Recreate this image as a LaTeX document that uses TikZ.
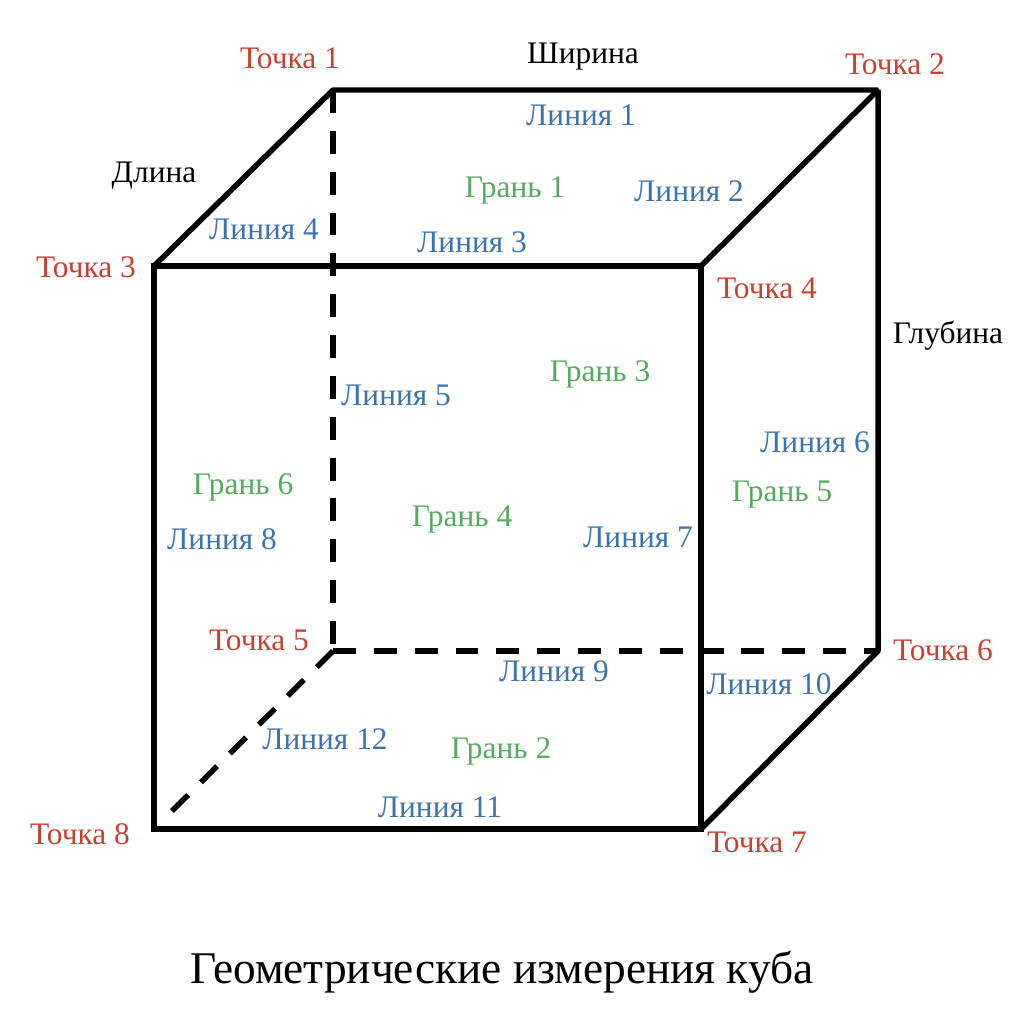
\documentclass[tikz,border=0pt]{standalone}
\usepackage{fontspec}
\setmainfont{Liberation Serif}
\usepackage{tikz}
\definecolor{ptred}{RGB}{205,62,50}
\definecolor{lineblue}{RGB}{60,115,175}
\definecolor{facegreen}{RGB}{85,170,95}
\tikzset{
  edge/.style={line width=5.5pt},
  hidden/.style={edge,dash pattern=on 23pt off 18pt},
  lab/.style={inner sep=0pt,font=\fontsize{31.5}{34}\selectfont},
  pt/.style={lab,text=ptred},
  ln/.style={lab,text=lineblue},
  fc/.style={lab,text=facegreen},
  dim/.style={lab,text=black},
}
\begin{document}
\begin{tikzpicture}[x=.0352778cm,y=-.0352778cm]
  \useasboundingbox (0,0) rectangle (1024,1024);
  % corners
  \coordinate (p1) at (333,90);
  \coordinate (p2) at (878,90);
  \coordinate (p3) at (154,266);
  \coordinate (p4) at (701,266);
  \coordinate (p5) at (333,651);
  \coordinate (p6) at (878,651);
  \coordinate (p7) at (701,829);
  \coordinate (p8) at (154,829);
  \coordinate (p8a) at (168,815);
  % hidden edges
  \draw[hidden] (p1) -- (p5);
  \draw[hidden] (p5) -- (p6);
  \draw[hidden] (p5) -- (p8a);
  % visible edges
  \draw[edge,line join=miter] (p3) rectangle (p7);
  \draw[edge,line join=bevel] (p3) -- (p1) -- (p2) -- (p4);
  \draw[edge,line join=bevel] (p2) -- (p6) -- (p7);
  % points
  \node[pt] (t1) at (290,58) {Точка 1};
  \node[pt] (t2) at (895,64) {Точка 2};
  \node[pt] (t3) at (86,267) {Точка 3};
  \node[pt] (t4) at (767,288) {Точка 4};
  \node[pt] (t5) at (259,640) {Точка 5};
  \node[pt] (t6) at (943,650) {Точка 6};
  \node[pt] (t7) at (757,842) {Точка 7};
  \node[pt] (t8) at (80,834) {Точка 8};
  % dimensions
  \node[dim] (w) at (583,57) {Ширина};
  \node[dim] (l) at (154,176) {Длина};
  \node[dim] (h) at (948,336) {Глубина};
  % lines
  \node[ln] (l1) at (581,115) {Линия 1};
  \node[ln] (l2) at (689,191) {Линия 2};
  \node[ln] (l3) at (472,242) {Линия 3};
  \node[ln] (l4) at (264,229) {Линия 4};
  \node[ln] (l5) at (396,395) {Линия 5};
  \node[ln] (l6) at (815,442) {Линия 6};
  \node[ln] (l7) at (638,537) {Линия 7};
  \node[ln] (l8) at (222,539) {Линия 8};
  \node[ln] (l9) at (554,671) {Линия 9};
  \node[ln] (l10) at (769,684) {Линия 10};
  \node[ln] (l11) at (440,807) {Линия 11};
  \node[ln] (l12) at (325,739) {Линия 12};
  % faces
  \node[fc] (f1) at (515,190) {Грань 1};
  \node[fc] (f2) at (501,751) {Грань 2};
  \node[fc] (f3) at (600,374) {Грань 3};
  \node[fc] (f4) at (462,520) {Грань 4};
  \node[fc] (f5) at (782,495) {Грань 5};
  \node[fc] (f6) at (243,487) {Грань 6};
  % title
  \node[lab,font=\fontsize{45.5}{50}\selectfont] (title) at (502,972) {Геометрические измерения куба};
\end{tikzpicture}
\end{document}
